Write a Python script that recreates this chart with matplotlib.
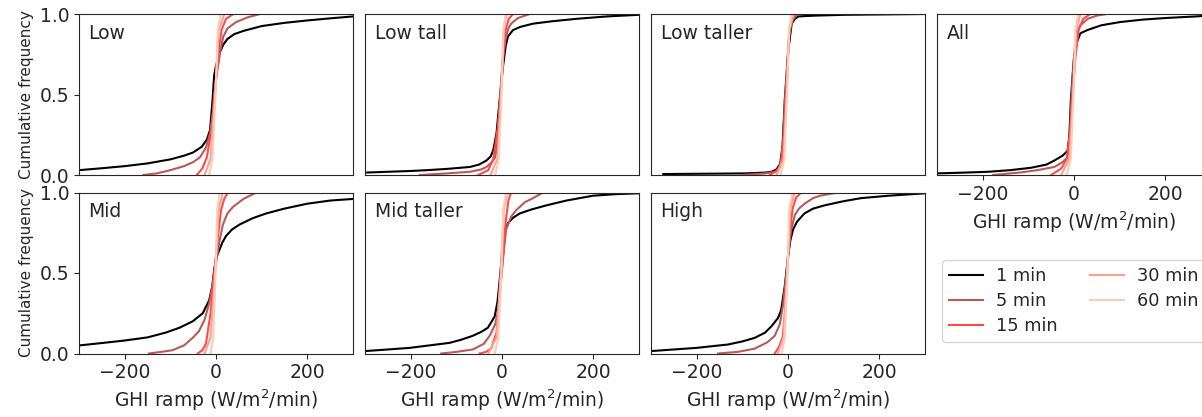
import matplotlib
matplotlib.use('Agg')
import matplotlib.pyplot as plt

plt.rcParams['font.family'] = ['DejaVu Sans']
plt.rcParams['text.color'] = '0.15'
plt.rcParams['axes.edgecolor'] = '0.15'
plt.rcParams['axes.labelcolor'] = '0.15'
plt.rcParams['xtick.color'] = '0.15'
plt.rcParams['ytick.color'] = '0.15'

panels = ["Low", "Low tall", "Low taller", "All", "Mid", "Mid taller", "High"]
resolutions = ["1 min", "5 min", "15 min", "30 min", "60 min"]
colors = ["#000000", "#b85a5a", "#ff4a4a", "#f9a292", "#fdcbb6"]

# cumulative frequency curves (x: ramp in W/m2/min, y: CDF)
ramp_1min = {
    "Low": ([-300, -250, -200, -150, -100, -70, -50, -31, -20, -13, -8, -4, 0, 8, 16, 25, 40, 60, 100, 150, 200, 250, 300],
            [0.03, 0.042, 0.055, 0.072, 0.097, 0.12, 0.14, 0.176, 0.22, 0.28, 0.45, 0.62, 0.68, 0.76, 0.81, 0.845, 0.875, 0.895, 0.925, 0.945, 0.96, 0.973, 0.985]),
    "Low tall": ([-300, -200, -165, -120, -70, -50, -34, -25, -19, -12, -5, 2, 8, 13, 24, 40, 68, 110, 163, 230, 300],
                 [0.015, 0.025, 0.03, 0.038, 0.05, 0.065, 0.09, 0.115, 0.155, 0.26, 0.47, 0.67, 0.80, 0.86, 0.90, 0.92, 0.94, 0.955, 0.97, 0.985, 0.995]),
    "Low taller": ([-273, -180, -94, -50, -36, -25, -17, -12, -7, 1, 8, 15, 23, 60, 124, 300],
                   [0.006, 0.008, 0.01, 0.015, 0.02, 0.035, 0.07, 0.18, 0.47, 0.78, 0.94, 0.97, 0.985, 0.99, 0.995, 1.0]),
    "All": ([-300, -250, -188, -140, -94, -60, -43, -25, -14, -10, -7, -3, 0, 7, 14, 29, 60, 101, 150, 200, 300],
            [0.01, 0.014, 0.02, 0.03, 0.045, 0.065, 0.09, 0.12, 0.15, 0.25, 0.46, 0.62, 0.73, 0.83, 0.88, 0.90, 0.93, 0.95, 0.965, 0.975, 0.99]),
    "Mid": ([-300, -250, -202, -150, -110, -80, -51, -29, -15, -8, -4, 0, 7, 14, 22, 35, 51, 80, 110, 150, 199, 250, 300],
            [0.05, 0.065, 0.08, 0.10, 0.13, 0.16, 0.20, 0.25, 0.33, 0.42, 0.52, 0.59, 0.64, 0.69, 0.73, 0.77, 0.80, 0.84, 0.87, 0.90, 0.93, 0.95, 0.96]),
    "Mid taller": ([-300, -250, -202, -160, -115, -90, -64, -45, -31, -16, -10, -7, -2, 2, 7, 13, 25, 39, 65, 97, 141, 199, 250, 300],
                   [0.015, 0.025, 0.035, 0.05, 0.066, 0.085, 0.11, 0.135, 0.16, 0.23, 0.32, 0.40, 0.55, 0.67, 0.76, 0.81, 0.845, 0.87, 0.895, 0.92, 0.95, 0.98, 0.99, 0.995]),
    "High": ([-300, -250, -200, -131, -100, -73, -50, -36, -22, -15, -7, 0, 5, 11, 20, 36, 55, 80, 120, 160, 220, 300],
             [0.015, 0.025, 0.035, 0.056, 0.075, 0.097, 0.13, 0.17, 0.22, 0.27, 0.42, 0.60, 0.70, 0.77, 0.82, 0.87, 0.90, 0.92, 0.945, 0.965, 0.98, 0.995]),
}
ramp_5min = {
    "Low": ([-159, -130, -100, -70, -50, -35, -22, -13, -7, -4, 3, 10, 16, 25, 44, 70, 97],
            [0, 0.01, 0.03, 0.055, 0.08, 0.11, 0.17, 0.26, 0.38, 0.50, 0.65, 0.78, 0.86, 0.91, 0.95, 0.98, 1.0]),
    "Low tall": ([-180, -120, -70, -45, -34, -22, -15, -9, -5, 1, 8, 14, 20, 35, 61],
                 [0, 0.01, 0.02, 0.035, 0.05, 0.08, 0.11, 0.22, 0.45, 0.70, 0.85, 0.91, 0.94, 0.975, 1.0]),
    "Low taller": ([-101, -50, -28, -18, -14, -10, -7, -2, 2, 6, 10, 16, 23],
                   [0, 0.01, 0.02, 0.05, 0.11, 0.25, 0.45, 0.68, 0.85, 0.92, 0.96, 0.985, 1.0]),
    "All": ([-177, -120, -80, -43, -25, -14, -9, -6, -2, 2, 8, 14, 30, 50, 72],
            [0, 0.015, 0.03, 0.05, 0.08, 0.11, 0.25, 0.45, 0.65, 0.80, 0.89, 0.93, 0.97, 0.99, 1.0]),
    "Mid": ([-147, -120, -96, -70, -50, -37, -25, -15, -7, 0, 7, 15, 25, 37, 60, 88],
            [0, 0.01, 0.02, 0.05, 0.10, 0.14, 0.21, 0.31, 0.43, 0.56, 0.69, 0.80, 0.87, 0.91, 0.96, 1.0]),
    "Mid taller": ([-133, -100, -64, -40, -27, -15, -9, -5, 2, 9, 20, 31, 50, 68, 90],
                   [0, 0.01, 0.025, 0.06, 0.11, 0.18, 0.26, 0.36, 0.58, 0.77, 0.85, 0.89, 0.94, 0.965, 1.0]),
    "High": ([-153, -110, -73, -45, -29, -18, -11, -4, 2, 7, 15, 24, 36, 55, 70, 109],
             [0, 0.01, 0.03, 0.07, 0.11, 0.18, 0.30, 0.48, 0.66, 0.77, 0.86, 0.90, 0.93, 0.965, 0.98, 1.0]),
}
ramp_15min = {
    "Low": ([-42, -30, -20, -10, -3, 5, 12, 22, 38], [0, 0.04, 0.11, 0.28, 0.50, 0.75, 0.90, 0.97, 1.0]),
    "Low tall": ([-52, -30, -19, -9, -3, 3, 8, 15, 24], [0, 0.03, 0.10, 0.30, 0.50, 0.75, 0.90, 0.97, 1.0]),
    "Low taller": ([-40, -22, -15, -8, -4, 0, 4, 8, 14], [0, 0.03, 0.08, 0.25, 0.50, 0.75, 0.92, 0.97, 1.0]),
    "All": ([-50, -28, -16, -8, -3, 3, 10, 20, 36], [0, 0.04, 0.10, 0.28, 0.50, 0.73, 0.90, 0.97, 1.0]),
    "Mid": ([-40, -30, -22, -12, -4, 4, 11, 18, 26], [0, 0.02, 0.06, 0.25, 0.50, 0.72, 0.89, 0.96, 1.0]),
    "Mid taller": ([-49, -35, -24, -12, -4, 2, 8, 14, 20], [0, 0.01, 0.03, 0.13, 0.40, 0.60, 0.82, 0.95, 1.0]),
    "High": ([-29, -20, -12, -6, -2, 4, 10, 18, 29], [0, 0.04, 0.10, 0.27, 0.50, 0.75, 0.90, 0.97, 1.0]),
}
ramp_30min = {
    "Low": ([-25, -12, -2, 6, 18], [0, 0.10, 0.50, 0.90, 1.0]),
    "Low tall": ([-25, -10, -2, 4, 10], [0, 0.10, 0.50, 0.90, 1.0]),
    "Low taller": ([-25, -10, -3, 3, 12], [0, 0.10, 0.50, 0.90, 1.0]),
    "All": ([-28, -10, -2, 5, 14], [0, 0.10, 0.50, 0.90, 1.0]),
    "Mid": ([-25, -12, -2, 6, 15], [0, 0.10, 0.50, 0.90, 1.0]),
    "Mid taller": ([-30, -12, -3, 4, 12], [0, 0.10, 0.50, 0.90, 1.0]),
    "High": ([-22, -10, -2, 5, 14], [0, 0.10, 0.50, 0.90, 1.0]),
}
ramp_60min = {
    "Low": ([-15, -8, -1, 4, 10], [0, 0.10, 0.50, 0.90, 1.0]),
    "Low tall": ([-15, -7, -1, 3, 8], [0, 0.10, 0.50, 0.90, 1.0]),
    "Low taller": ([-16, -8, -2, 2, 8], [0, 0.10, 0.50, 0.90, 1.0]),
    "All": ([-16, -7, -1, 3, 9], [0, 0.10, 0.50, 0.90, 1.0]),
    "Mid": ([-12, -6, -1, 3, 8], [0, 0.10, 0.50, 0.90, 1.0]),
    "Mid taller": ([-16, -8, -1, 3, 9], [0, 0.10, 0.50, 0.90, 1.0]),
    "High": ([-14, -7, -1, 3, 9], [0, 0.10, 0.50, 0.90, 1.0]),
}
curves = [ramp_1min, ramp_5min, ramp_15min, ramp_30min, ramp_60min]

W, H = 1202, 417
fig = plt.figure(figsize=(W / 100, H / 100), dpi=100)

lefts = [79, 365, 651, 937]
tops = [14, 192.5]
aw, ah = 274, 161

handles = []
for i, name in enumerate(panels):
    r, c = (0, i) if i < 4 else (1, i - 4)
    ax = fig.add_axes([lefts[c] / W, 1 - (tops[r] + ah) / H, aw / W, ah / H])
    for k, (res, col) in enumerate(zip(resolutions, colors)):
        xs, ys = curves[k][name]
        ln, = ax.plot(xs, ys, color=col, lw=1.5, label=res)
        if i == 0:
            handles.append(ln)
    ax.set_xlim(-300, 300)
    ax.set_ylim(0, 1)
    ax.set_xticks([-200, 0, 200])
    ax.set_yticks([0, 0.5, 1.0])
    ax.tick_params(labelsize=13.5)
    ax.text(0.035, 0.94, name, transform=ax.transAxes, fontsize=13.5, va='top', ha='left')
    if c == 0:
        ax.set_ylabel("Cumulative frequency", fontsize=11, labelpad=4)
    else:
        ax.tick_params(left=False, labelleft=False)
    if r == 0 and name != "All":
        ax.tick_params(bottom=False, labelbottom=False)
    else:
        ax.set_xlabel("GHI ramp (W/m$^2$/min)", fontsize=13.5)

fig.legend(handles=handles, labels=resolutions, ncol=2, fontsize=12.8,
           loc='upper left', bbox_to_anchor=(942 / W, 1 - 260 / H), borderaxespad=0,
           frameon=True, columnspacing=1.8, handlelength=1.9, handletextpad=0.75,
           labelspacing=0.4)

fig.savefig("out.png", dpi=100)
